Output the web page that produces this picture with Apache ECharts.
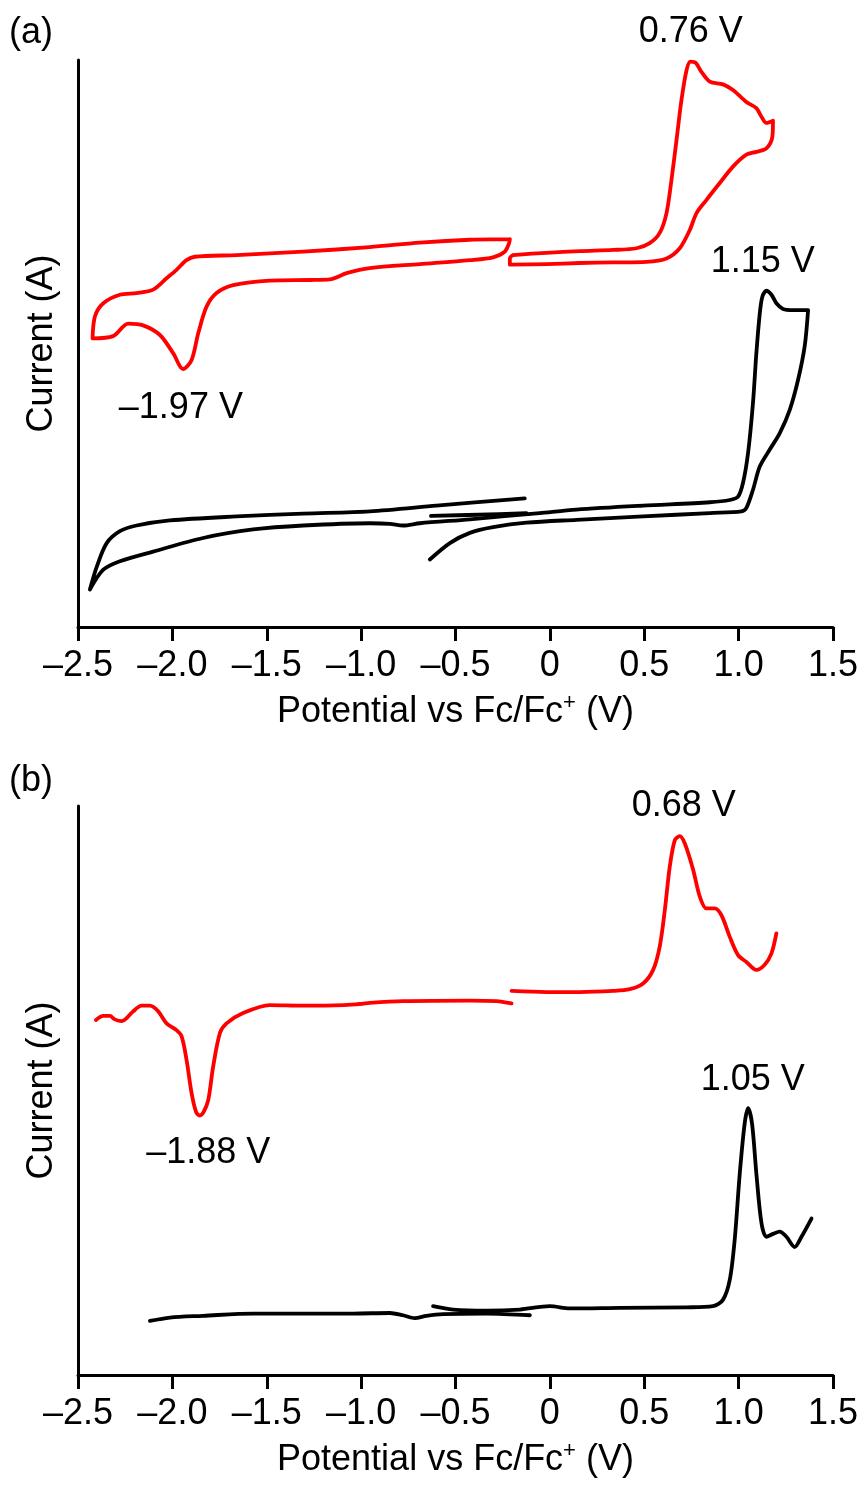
<!DOCTYPE html>
<html>
<head>
<meta charset="utf-8">
<script src="https://cdn.jsdelivr.net/npm/echarts@6.0.0/dist/echarts.min.js"></script>
<style>
  html, body { margin: 0; padding: 0; background: #fff; }
  #chart { width: 867px; height: 1485px; }
</style>
</head>
<body>
<div id="chart"></div>
<script>
// potential (V vs Fc/Fc+) , current (arbitrary units, 0-100 per panel)
// (a) red CV, cathodic loop
const aRedLeft = [
  [-0.212, 68.4], [-0.424, 68.3], [-0.689, 67.8], [-0.954, 67.0], [-1.307, 66.2], [-1.660, 65.6],
  [-1.881, 65.3], [-1.925, 64.7], [-1.978, 63.0], [-2.031, 61.5], [-2.102, 59.5], [-2.190, 58.9],
  [-2.278, 58.6], [-2.366, 57.1], [-2.410, 54.8], [-2.423, 50.9], [-2.314, 51.3], [-2.234, 53.5],
  [-2.155, 53.2], [-2.066, 51.5], [-1.996, 48.3], [-1.943, 45.5], [-1.898, 47.1], [-1.863, 51.8],
  [-1.819, 56.5], [-1.766, 58.9], [-1.678, 60.3], [-1.484, 61.1], [-1.272, 61.2], [-1.166, 61.3],
  [-1.077, 62.4], [-0.954, 63.3], [-0.689, 64.0], [-0.424, 64.7], [-0.301, 65.2], [-0.239, 66.2],
  [-0.216, 67.7], [-0.212, 68.4]
];
// (a) red CV, anodic loop
const aRedRight = [
  [-0.195, 65.6], [-0.018, 66.0], [0.158, 66.3], [0.335, 66.5], [0.459, 66.8], [0.529, 67.7],
  [0.582, 69.5], [0.618, 73.0], [0.644, 78.8], [0.671, 85.9], [0.697, 92.9], [0.724, 98.2],
  [0.745, 99.7], [0.773, 99.5], [0.803, 97.9], [0.847, 96.2], [0.917, 95.7], [0.970, 94.7],
  [1.041, 92.6], [1.094, 91.5], [1.121, 90.0], [1.147, 88.9], [1.182, 89.3], [1.179, 86.5],
  [1.147, 84.4], [1.094, 83.8], [1.041, 83.3], [0.970, 81.2], [0.900, 78.3], [0.829, 75.3],
  [0.777, 73.0], [0.741, 70.0], [0.688, 66.8], [0.618, 65.0], [0.512, 64.4], [0.335, 64.3],
  [0.158, 64.2], [-0.018, 64.0], [-0.212, 63.9], [-0.212, 65.0], [-0.195, 65.6]
];
// (a) black CV
const aBlack = [
  [-0.133, 22.7], [-0.601, 21.4], [-0.954, 20.4], [-1.307, 20.0], [-1.660, 19.5], [-2.013, 18.8],
  [-2.190, 17.9], [-2.278, 16.9], [-2.348, 14.8], [-2.400, 10.7], [-2.437, 6.6], [-2.366, 10.1],
  [-2.278, 11.6], [-2.102, 13.3], [-1.837, 15.7], [-1.572, 17.2], [-1.307, 17.9], [-0.954, 18.3],
  [-0.848, 18.2], [-0.778, 17.9], [-0.689, 18.3], [-0.424, 19.0], [-0.054, 20.1], [0.141, 20.7],
  [0.494, 21.4], [0.847, 22.0], [0.953, 22.4], [0.997, 23.0], [1.023, 25.4], [1.050, 30.7],
  [1.076, 39.5], [1.094, 48.3], [1.112, 55.3], [1.126, 58.3], [1.147, 59.3], [1.174, 58.6],
  [1.200, 57.1], [1.235, 56.1], [1.288, 55.9], [1.368, 55.9], [1.350, 49.5], [1.315, 43.6],
  [1.271, 38.3], [1.218, 34.2], [1.165, 31.3], [1.112, 28.3], [1.076, 24.2], [1.041, 21.0],
  [1.015, 20.4], [0.847, 20.1], [0.494, 19.5], [0.141, 18.9], [-0.124, 18.4], [-0.301, 17.6],
  [-0.424, 16.6], [-0.530, 14.8], [-0.636, 11.9]
];
const aBlackStart = [[-0.630, 19.6], [-0.380, 19.8], [-0.124, 20.1]];

// (b) red DPV
const bRedLeft = [
  [-2.405, 62.4], [-2.366, 63.1], [-2.331, 63.1], [-2.305, 62.5], [-2.269, 62.2], [-2.243, 62.7],
  [-2.208, 63.9], [-2.163, 64.9], [-2.119, 64.9], [-2.075, 63.9], [-2.031, 61.8], [-1.978, 60.6],
  [-1.951, 59.5], [-1.925, 55.4], [-1.898, 49.5], [-1.874, 46.2], [-1.855, 45.6], [-1.835, 46.2],
  [-1.810, 48.3], [-1.784, 54.2], [-1.748, 60.1], [-1.713, 61.8], [-1.625, 63.6], [-1.484, 65.0],
  [-1.307, 64.9], [-1.219, 64.9], [-1.007, 65.2], [-0.954, 65.4], [-0.778, 65.7], [-0.424, 65.8],
  [-0.283, 65.7], [-0.203, 65.3]
];
const bRedRight = [
  [-0.203, 67.5], [-0.018, 67.3], [0.158, 67.3], [0.335, 67.5], [0.423, 67.8], [0.494, 68.8],
  [0.547, 71.2], [0.582, 75.3], [0.609, 81.7], [0.635, 89.3], [0.662, 94.0], [0.688, 94.7],
  [0.715, 93.4], [0.759, 88.8], [0.794, 84.1], [0.829, 82.0], [0.873, 82.0], [0.909, 80.8],
  [0.953, 77.0], [0.997, 73.8], [1.041, 72.6], [1.094, 71.2], [1.138, 72.1], [1.174, 74.1],
  [1.200, 77.6]
];
// (b) black DPV
const bBlackLeft = [
  [-2.119, 9.5], [-2.013, 10.1], [-1.837, 10.4], [-1.572, 10.8], [-1.307, 10.8], [-1.042, 10.8],
  [-0.848, 10.9], [-0.778, 10.5], [-0.716, 10.0], [-0.654, 10.4], [-0.566, 10.7], [-0.336, 10.8],
  [-0.106, 10.5]
];
const bBlackRight = [
  [-0.619, 12.1], [-0.513, 11.5], [-0.336, 11.3], [-0.159, 11.5], [0.0, 12.1], [0.105, 11.7],
  [0.370, 11.8], [0.724, 11.9], [0.864, 12.1], [0.917, 13.2], [0.953, 16.7], [0.979, 23.7],
  [1.006, 35.4], [1.032, 44.2], [1.050, 46.9], [1.071, 44.2], [1.094, 35.4], [1.121, 26.7],
  [1.147, 24.3], [1.182, 24.8], [1.218, 25.2], [1.253, 24.3], [1.297, 22.5], [1.333, 24.3],
  [1.386, 27.5]
];

// peak annotations: potential, current, text
const aPeakLabels = [[0.746, 104.9, '0.76 V'], [1.128, 64.3, '1.15 V'], [-1.955, 38.6, '–1.97 V']];
const bPeakLabels = [[0.709, 100.0, '0.68 V'], [1.075, 51.9, '1.05 V'], [-1.810, 39.0, '–1.88 V']];

const panelNames = ['(a)', '(b)'];
const xName = 'Potential vs Fc/Fc{sup|+} (V)';
const yName = 'Current (A)';

const FONT = "'Liberation Sans', Arial, sans-serif";
const RED = '#ff0000';
const BLACK = '#000000';

var chart = echarts.init(document.getElementById('chart'));

function xAxis(gi) {
    return {
        type: 'value', gridIndex: gi,
        min: -2.5, max: 1.5, interval: 0.5,
        axisLine: { onZero: false, lineStyle: { color: BLACK, width: 3 } },
        axisTick: { length: 14, lineStyle: { color: BLACK, width: 3 } },
        axisLabel: {
            fontSize: 36, fontFamily: FONT, color: BLACK, margin: 19, lineHeight: 40,
            formatter: function (v) {
                if (Math.abs(v) < 1e-9) return '0';
                return (v < 0 ? '–' : '') + Math.abs(v).toFixed(1);
            }
        },
        splitLine: { show: false },
        name: xName, nameLocation: 'middle', nameGap: 65,
        nameTextStyle: {
            fontSize: 36, fontFamily: FONT, color: BLACK, lineHeight: 40,
            rich: { sup: { fontSize: 22, fontFamily: FONT, color: BLACK, lineHeight: 26, verticalAlign: 'top' } }
        }
    };
}

function yAxis(gi) {
    return {
        type: 'value', gridIndex: gi, min: 0, max: 100,
        axisLine: { show: true, onZero: false, lineStyle: { color: BLACK, width: 3 } },
        axisTick: { show: false },
        axisLabel: { show: false },
        splitLine: { show: false },
        name: yName, nameLocation: 'middle', nameGap: 16,
        nameTextStyle: { fontSize: 36, fontFamily: FONT, color: BLACK, lineHeight: 40 }
    };
}

function curve(data, color, gi) {
    return {
        type: 'line', xAxisIndex: gi, yAxisIndex: gi, data: data,
        showSymbol: false, symbol: 'none', smooth: 0.3, clip: false, silent: true,
        lineStyle: { color: color, width: 3.8, join: 'round', cap: 'round' }
    };
}

function peakText(data, gi) {
    return {
        type: 'scatter', xAxisIndex: gi, yAxisIndex: gi, data: data,
        symbolSize: 0, clip: false, silent: true,
        itemStyle: { opacity: 1 },
        label: {
            show: true, position: 'inside', color: BLACK, opacity: 1, fontSize: 36, fontFamily: FONT,
            formatter: function (p) { return p.data[2]; }
        }
    };
}

var option = {
    animation: false,
    backgroundColor: '#fff',
    title: [
        { text: panelNames[0], left: 9, top: 13, padding: 0,
          textStyle: { fontSize: 36, fontWeight: 'normal', fontFamily: FONT, color: BLACK, lineHeight: 40 } },
        { text: panelNames[1], left: 9, top: 761, padding: 0,
          textStyle: { fontSize: 36, fontWeight: 'normal', fontFamily: FONT, color: BLACK, lineHeight: 40 } }
    ],
    grid: [
        { left: 78, right: 34, top: 60, height: 567 },
        { left: 78, right: 34, top: 806, height: 569 }
    ],
    xAxis: [xAxis(0), xAxis(1)],
    yAxis: [yAxis(0), yAxis(1)],
    series: [
        curve(aRedLeft, RED, 0),
        curve(aRedRight, RED, 0),
        curve(aBlack, BLACK, 0),
        curve(aBlackStart, BLACK, 0),
        peakText(aPeakLabels, 0),
        curve(bRedLeft, RED, 1),
        curve(bRedRight, RED, 1),
        curve(bBlackLeft, BLACK, 1),
        curve(bBlackRight, BLACK, 1),
        peakText(bPeakLabels, 1)
    ]
};

option && chart.setOption(option);
</script>
</body>
</html>
